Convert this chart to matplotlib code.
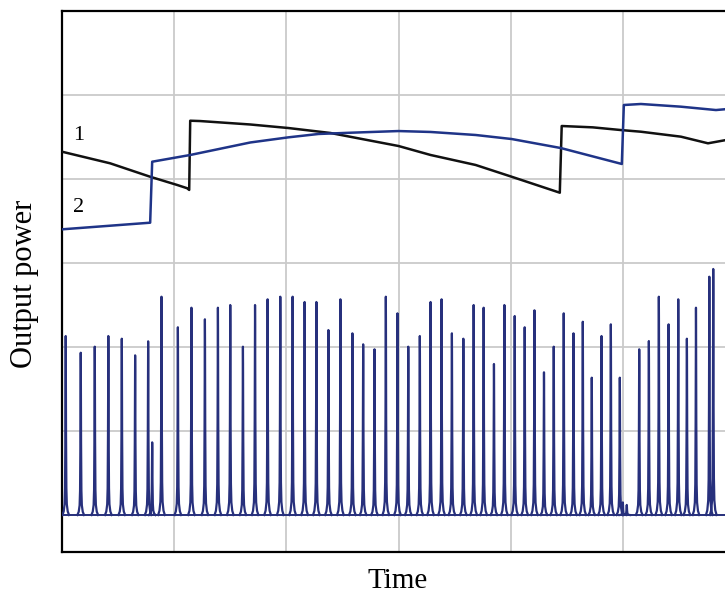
import numpy as np
import matplotlib
matplotlib.use("Agg")
from matplotlib import pyplot as plt

# time axis: one grid cell = 1 unit; power axis: one grid cell = 1 unit

# curve 1 (black)
t1 = [0.0, 0.429, 0.786, 1.027, 1.116, 1.134, 1.143, 1.232, 1.679, 2.018, 2.393,
      3.0, 3.286, 3.688, 4.009, 4.438, 4.455, 4.732, 4.982, 5.161, 5.518, 5.759,
      5.920, 6.009]
p1 = [4.325, 4.187, 4.027, 3.929, 3.890, 3.870, 4.694, 4.690, 4.649, 4.607, 4.548,
      4.393, 4.286, 4.167, 4.027, 3.837, 4.631, 4.615, 4.583, 4.563, 4.504, 4.425,
      4.464, 4.476]

# curve 2 (blue)
t2 = [0.0, 0.786, 0.804, 1.143, 1.679, 2.018, 2.286, 2.571, 3.0, 3.286, 3.688,
      4.009, 4.446, 4.991, 5.009, 5.161, 5.518, 5.830, 6.009]
p2 = [3.401, 3.480, 4.206, 4.286, 4.435, 4.496, 4.536, 4.551, 4.571, 4.560, 4.524,
      4.476, 4.369, 4.179, 4.881, 4.893, 4.861, 4.821, 4.842]

# pulse train: peak times and heights
pulse_t = [0.033, 0.167, 0.292, 0.413, 0.533, 0.652, 0.768, 0.804, 0.887, 1.033,
           1.154, 1.274, 1.390, 1.500, 1.613, 1.721, 1.833, 1.946, 2.056, 2.163,
           2.268, 2.375, 2.482, 2.589, 2.685, 2.786, 2.887, 2.991, 3.087, 3.190,
           3.286, 3.384, 3.476, 3.578, 3.670, 3.759, 3.851, 3.944, 4.036, 4.125,
           4.212, 4.297, 4.384, 4.473, 4.560, 4.643, 4.723, 4.810, 4.893, 4.973,
           5.000, 5.035, 5.146, 5.232, 5.321, 5.408, 5.494, 5.571, 5.652, 5.771,
           5.806]
pulse_h = [2.131, 1.932, 2.004, 2.131, 2.099, 1.901, 2.068, 0.865, 2.599, 2.235,
           2.468, 2.330, 2.468, 2.500, 2.004, 2.500, 2.568, 2.599, 2.599, 2.536,
           2.536, 2.202, 2.568, 2.163, 2.032, 1.973, 2.599, 2.401, 2.004, 2.131,
           2.536, 2.568, 2.163, 2.099, 2.500, 2.468, 1.798, 2.500, 2.369, 2.235,
           2.437, 1.699, 2.004, 2.401, 2.163, 2.301, 1.635, 2.131, 2.270, 1.635,
           0.15, 0.12, 1.973, 2.071, 2.599, 2.270, 2.568, 2.099, 2.468, 2.837,
           2.929]

# shape of a single pulse (offsets in time units, fraction of peak)
shape_dt = [-0.03, -0.018, -0.01, -0.006, -0.003, -0.001, 0.0,
            0.001, 0.003, 0.006, 0.01, 0.018, 0.03]
shape_f = [0.0, 0.02, 0.06, 0.15, 0.45, 0.9, 1.0, 0.9, 0.45, 0.15, 0.06, 0.02, 0.0]

W, H = 725, 594
fig = plt.figure(figsize=(W / 100, H / 100), dpi=100)
ax = fig.add_axes([62 / W, 42 / H, (735 - 62) / W, (552 - 11) / H])

ax.set_xlim(0, 6)
ax.set_ylim(-0.44, 6.0)
ax.set_xticks(np.arange(0, 7, 1))
ax.set_yticks(np.arange(0, 6, 1))
ax.grid(True, color='#cacaca', lw=1.3)
ax.tick_params(length=0, labelbottom=False, labelleft=False)
for s in ax.spines.values():
    s.set_linewidth(1.6)
    s.set_color('black')

navy = '#27307c'
ax.axhline(0, color=navy, lw=1.4, zorder=3)
xs, ys = [], []
for t, h in zip(pulse_t, pulse_h):
    xs += [t + d for d in shape_dt] + [np.nan]
    ys += [h * f for f in shape_f] + [np.nan]
ax.plot(xs, ys, color=navy, lw=1.6, zorder=3)

ax.plot(t1, p1, color='#111111', lw=1.8, zorder=4)
ax.plot(t2, p2, color='#1f3488', lw=1.8, zorder=4)

serif = 'Liberation Serif'
ax.text(0.152, 4.518, '1', family=serif, fontsize=16, ha='center', va='center')
ax.text(0.147, 3.655, '2', family=serif, fontsize=16, ha='center', va='center')

fig.text(398 / W, 1 - 588 / H, 'Time', family=serif, fontsize=21,
         ha='center', va='baseline')
fig.text(25 / W, 1 - 284 / H, 'Output power', family=serif, fontsize=22,
         ha='center', va='center', rotation=90)

fig.savefig('out.png', dpi=100)
